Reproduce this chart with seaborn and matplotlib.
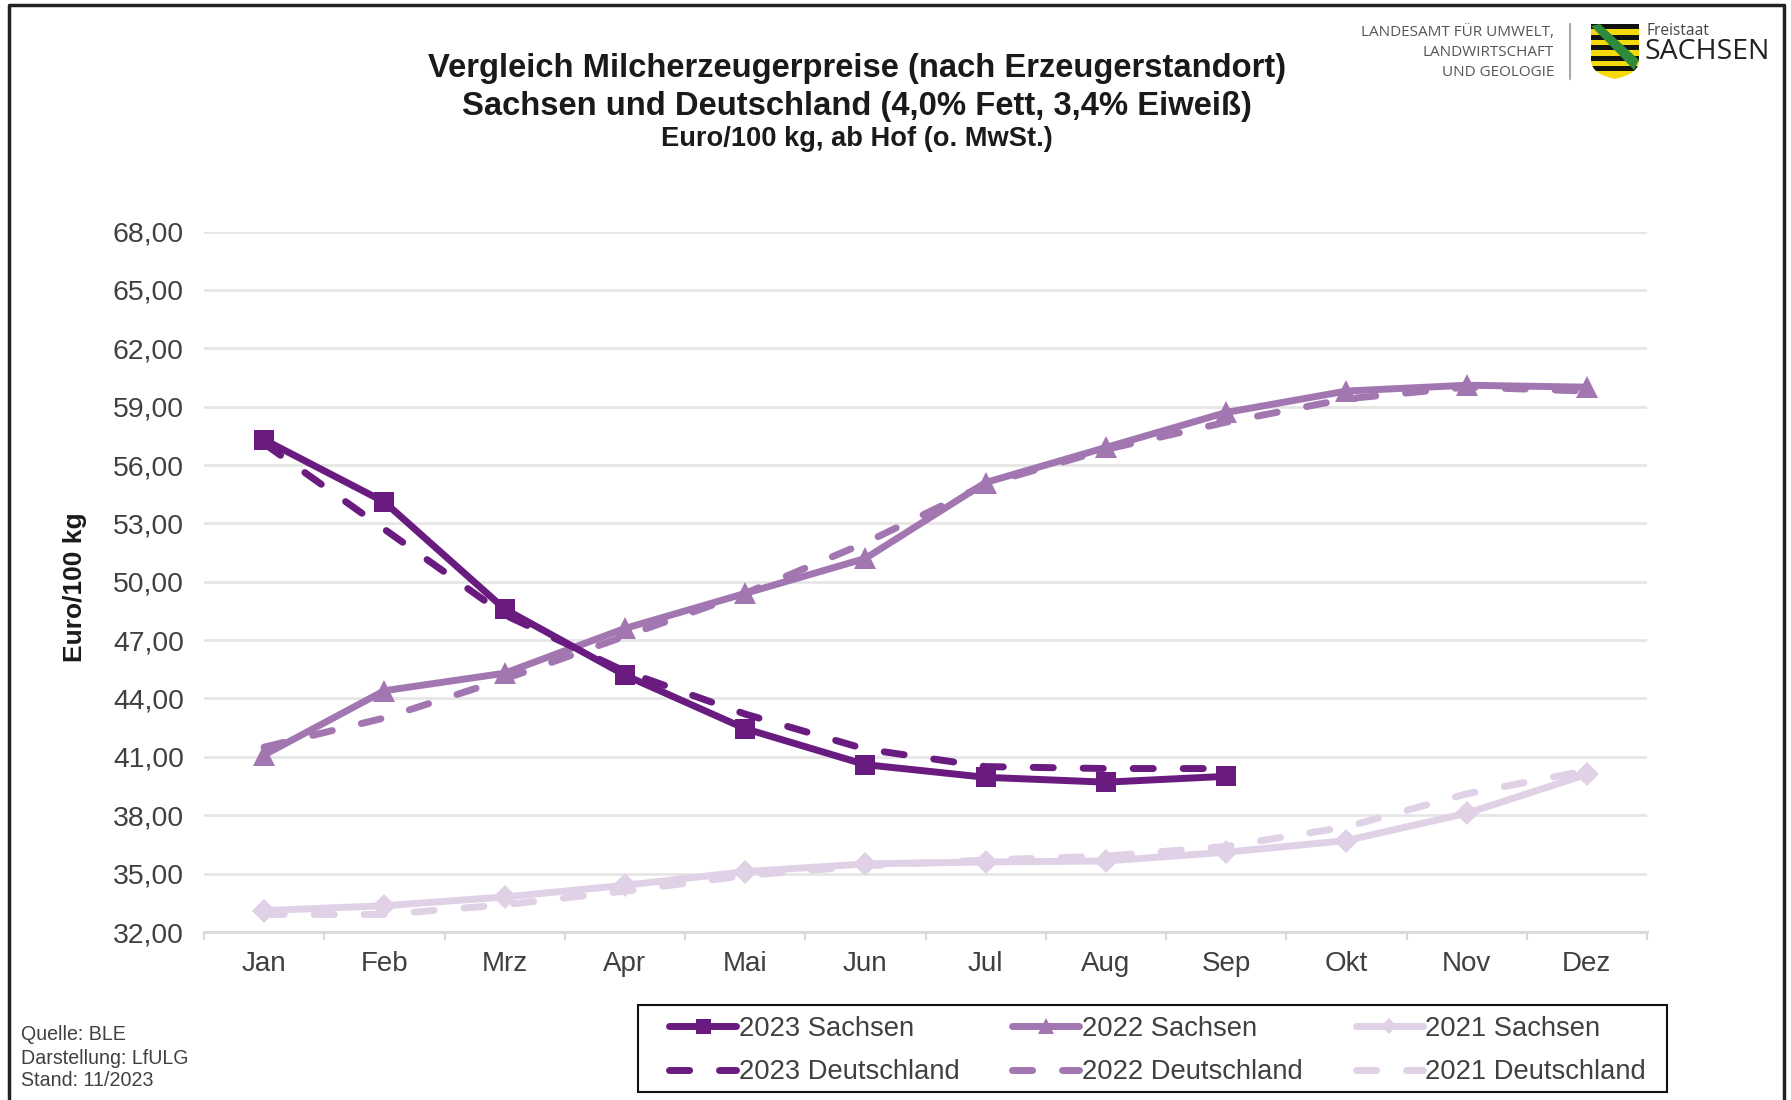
import matplotlib
matplotlib.use("Agg")
import matplotlib.pyplot as plt
import matplotlib.patches as mp
from matplotlib.lines import Line2D
import seaborn as sns
import pandas as pd
import numpy as np

months = ["Jan","Feb","Mrz","Apr","Mai","Jun","Jul","Aug","Sep","Okt","Nov","Dez"]
s2023 = [57.3,54.1,48.6,45.2,42.45,40.6,39.95,39.7,40.0]
d2023 = [57.1,52.7,48.3,45.4,43.2,41.4,40.5,40.4,40.4]
s2022 = [41.1,44.4,45.3,47.6,49.4,51.2,55.1,56.9,58.7,59.8,60.1,60.0]
d2022 = [41.5,43.0,45.0,47.2,49.4,52.0,55.0,56.8,58.2,59.4,60.0,59.8]
s2021 = [33.1,33.35,33.8,34.4,35.1,35.5,35.6,35.65,36.1,36.7,38.1,40.1]
d2021 = [32.9,32.9,33.4,34.1,34.9,35.4,35.7,35.9,36.4,37.4,39.1,40.3]
yticks = list(range(32,69,3))

C23, C22, C21 = "#6a1b80", "#a277b1", "#e0d1e7"
DASH = (0,(2.9,4.3))
series = [
    ("2023 Sachsen", s2023, C23, "-", "s", 15),
    ("2023 Deutschland", d2023, C23, DASH, None, 0),
    ("2022 Sachsen", s2022, C22, "-", "^", 16),
    ("2022 Deutschland", d2022, C22, DASH, None, 0),
    ("2021 Sachsen", s2021, C21, "-", "D", 12),
    ("2021 Deutschland", d2021, C21, DASH, None, 0),
]

sns.set_theme(style="white")
plt.rcParams["font.family"] = ["Liberation Sans", "DejaVu Sans"]
W, H = 1791, 1100
fig = plt.figure(figsize=(W/100, H/100), dpi=100, facecolor="white")
L, R, T, B = 204, 1647, 231.5, 932
ax = fig.add_axes([L/W, 1-B/H, (R-L)/W, (B-T)/H])

order = [5,4,3,2,1,0]
for i in order:
    name, vals, c, ls, mk, ms = series[i]
    df = pd.DataFrame({"m": np.arange(len(vals)), "v": vals})
    sns.lineplot(data=df, x="m", y="v", ax=ax, color=c, linestyle=ls,
                 linewidth=5,
                 marker=mk, markersize=ms, markeredgewidth=0, markeredgecolor=c,
                 errorbar=None, dash_capstyle="round", zorder=2+(6-i)*0.1, clip_on=False)

ax.set_xlim(-0.5, 11.5)
ax.set_ylim(32, 68)
ax.set_yticks(yticks)
ax.set_yticklabels([f"{v},00" for v in yticks], fontsize=20.4, color="#404040")
ax.set_xticks(range(12))
ax.set_xticklabels(months, fontsize=20, color="#404040")
ax.set_xticks(np.arange(-0.5, 12, 1), minor=True)
ax.tick_params(axis="x", which="major", length=0, pad=14)
ax.tick_params(axis="x", which="minor", bottom=True, length=6, width=1.5, color="#d9d9d9", direction="out")
ax.tick_params(axis="y", length=0, pad=14.5)
ax.grid(axis="y", color="#e6e6e6", linewidth=2)
ax.set_axisbelow(True)
for s in ["top","left","right"]:
    ax.spines[s].set_visible(False)
ax.spines["bottom"].set_color("#d9d9d9")
ax.spines["bottom"].set_linewidth(2)
ax.set_xlabel("")
ax.set_ylabel("")

def ft(x, y, s, **k):
    return fig.text(x/W, 1-y/H, s, **k)

ft(857, 69, "Vergleich Milcherzeugerpreise (nach Erzeugerstandort)", ha="center", va="center",
   fontsize=23.6, fontweight="bold", color="#1a1a1a")
ft(857, 107, "Sachsen und Deutschland (4,0% Fett, 3,4% Eiweiß)", ha="center", va="center",
   fontsize=23.6, fontweight="bold", color="#1a1a1a")
ft(857, 139, "Euro/100 kg, ab Hof (o. MwSt.)", ha="center", va="center",
   fontsize=19.6, fontweight="bold", color="#1a1a1a")
ft(75, 587, "Euro/100 kg", rotation=90, ha="center", va="center", fontsize=19,
   fontweight="bold", color="#1a1a1a")

for y, s in zip([1035, 1058, 1081], ["Quelle: BLE", "Darstellung: LfULG", "Stand: 11/2023"]):
    ft(21, y, s, ha="left", va="center", fontsize=14.1, color="#404040")

# outer frame
bg = fig.add_axes([0,0,1,1], zorder=-1)
bg.set_xlim(0,W); bg.set_ylim(H,0); bg.axis("off")
bg.plot([9,9,1784,1784],[1100,5,5,1100], color="#222222", lw=2.5)

# logo block
ov = fig.add_axes([0,0,1,1], zorder=5, facecolor="none")
ov.set_xlim(0,W); ov.set_ylim(H,0); ov.axis("off")
for y, s in zip([32, 52, 72], ["LANDESAMT FÜR UMWELT,", "LANDWIRTSCHAFT", "UND GEOLOGIE"]):
    ov.text(1554, y, s, ha="right", va="center", fontsize=11, color="#555555", family="Open Sans")
ov.plot([1570,1570],[24,79], color="#aaaaaa", lw=1.5)
ov.text(1646, 31, "Freistaat", ha="left", va="center", fontsize=11.2, color="#444444", family="Open Sans")
ov.text(1645, 52, "SACHSEN", ha="left", va="center", fontsize=20.5, color="#222222", family="Open Sans")
shield = mp.PathPatch(matplotlib.path.Path(
    [(1591,24),(1639,24),(1639,60),(1639,74),(1615,79),(1591,74),(1591,60),(1591,24)],
    [1,2,2,3,3,3,3,2]), fc="#f5d90a", ec="none")
ov.add_patch(shield)
for k in range(5):
    r = mp.Rectangle((1591, 24+k*10.5), 48, 5.2, fc="#111111", ec="none")
    ov.add_patch(r)
    r.set_clip_path(shield)
band = mp.Polygon([(1591,26),(1600,24),(1639,60),(1634,70)], fc="#2f8a3c", ec="none")
ov.add_patch(band)
band.set_clip_path(shield)

# legend box and entries
ov.add_patch(mp.Rectangle((638,1005), 1029, 87, fc="white", ec="#111111", lw=1.5, zorder=1))
handles, labels = [], []
for i in [0,1,2,3,4,5]:
    name, vals, c, ls, mk, ms = series[i]
    handles.append(Line2D([], [], color=c, linestyle=ls, lw=5, marker=mk, markersize=ms*0.72,
                          markeredgewidth=0, dash_capstyle="round"))
    labels.append(name)
leg = fig.legend(handles, labels, ncol=3, loc="upper left",
                 bbox_to_anchor=(669/W, 1-1015.5/H),
                 frameon=False, fontsize=19.7, handlelength=2.45, handletextpad=0.1,
                 labelspacing=0.65, borderaxespad=0, borderpad=0, columnspacing=1.93,
                 labelcolor="#404040")
leg.set_zorder(10)

fig.savefig("out.png", dpi=100)
